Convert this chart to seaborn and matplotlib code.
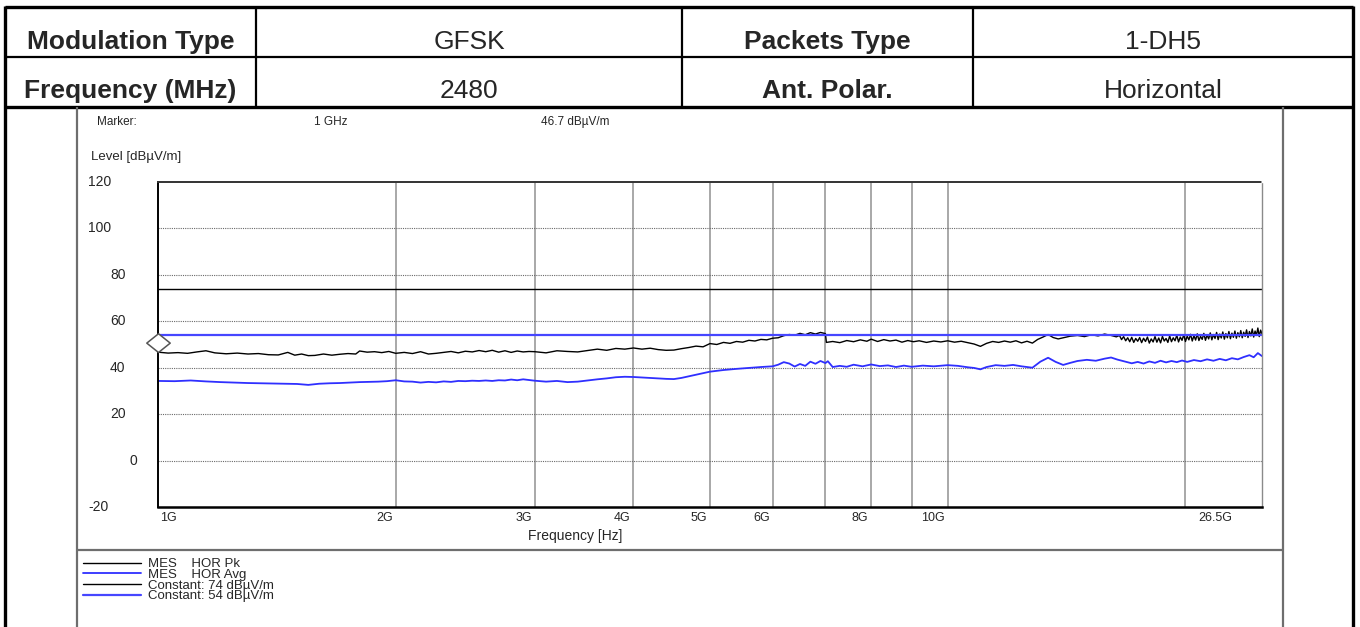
import numpy as np
import pandas as pd
import matplotlib
matplotlib.use("Agg")
import matplotlib.pyplot as plt
import matplotlib.transforms as mtransforms
from matplotlib.lines import Line2D
from matplotlib.path import Path
from matplotlib.ticker import NullLocator
import seaborn as sns

# ---- table content
left_labels = ["Modulation Type", "Frequency (MHz)"]
left_values = ["GFSK", "2480"]
right_labels = ["Packets Type", "Ant. Polar."]
right_values = ["1-DH5", "Horizontal"]

# ---- marker / limits
marker_freq = 1.0      # GHz
marker_level = 46.7    # dBuV/m
limit_pk = 74
limit_avg = 54

# ---- peak trace (GHz, dBuV/m)
pk_freq = [1.00, 1.03, 1.06, 1.09, 1.12, 1.15, 1.18, 1.22, 1.26, 1.30, 1.34, 1.38, 1.42, 1.46,
           1.49, 1.52, 1.55, 1.58, 1.62, 1.66, 1.70, 1.74, 1.78, 1.80, 1.84, 1.88, 1.92, 1.96,
           2.00, 2.05, 2.10, 2.15, 2.20, 2.25, 2.30, 2.35, 2.40, 2.45, 2.50, 2.55, 2.60, 2.65,
           2.70, 2.75, 2.80, 2.85, 2.90, 2.95, 3.00, 3.10, 3.20, 3.30, 3.40, 3.50, 3.60, 3.70,
           3.80, 3.90, 4.00, 4.10, 4.20, 4.30, 4.40, 4.50, 4.60, 4.70, 4.80, 4.90, 5.00, 5.10,
           5.20, 5.30, 5.40, 5.50, 5.60, 5.70, 5.80, 5.90, 6.00, 6.10, 6.20, 6.30, 6.40, 6.50,
           6.60, 6.70, 6.80, 6.90, 7.00, 7.02, 7.15, 7.30, 7.45, 7.60, 7.75, 7.90, 8.00, 8.15,
           8.30, 8.45, 8.60, 8.75, 8.90, 9.05, 9.20, 9.40, 9.60, 9.80, 10.0, 10.2, 10.4, 10.6,
           10.8, 11.0, 11.2, 11.4, 11.6, 11.8, 12.0, 12.2, 12.4, 12.6, 12.8, 13.0, 13.2, 13.4,
           13.6, 13.8, 14.0, 14.3, 14.6, 14.9, 15.2, 15.5, 15.8, 16.1, 16.35,
           16.5, 16.6, 16.7, 16.8, 16.9, 17.0, 17.1, 17.2, 17.3, 17.4,
           17.5, 17.6, 17.7, 17.8, 17.9, 18.0, 18.1, 18.2, 18.3, 18.4,
           18.5, 18.6, 18.7, 18.8, 18.9, 19.0, 19.1, 19.2, 19.3, 19.4,
           19.5, 19.6, 19.7, 19.8, 19.9, 20.0, 20.1, 20.2, 20.3, 20.4,
           20.5, 20.6, 20.7, 20.8, 20.9, 21.0, 21.1, 21.2, 21.3, 21.4,
           21.5, 21.6, 21.7, 21.8, 21.9, 22.0, 22.1, 22.2, 22.3, 22.4,
           22.5, 22.6, 22.7, 22.8, 22.9, 23.0, 23.1, 23.2, 23.3, 23.4,
           23.5, 23.6, 23.7, 23.8, 23.9, 24.0, 24.1, 24.2, 24.3, 24.4,
           24.5, 24.6, 24.7, 24.8, 24.9, 25.0]
pk_level = [46.7, 46.3, 46.5, 46.2, 46.8, 47.3, 46.4, 46.0, 46.3, 45.9, 46.1, 45.6, 45.5, 46.6,
            45.4, 45.9, 45.2, 45.3, 45.9, 45.4, 45.8, 46.1, 45.9, 47.2, 46.7, 46.9, 46.5, 47.0,
            46.2, 46.6, 46.1, 46.9, 45.9, 46.2, 46.6, 47.0, 46.4, 47.1, 46.8, 47.4, 46.9, 47.5,
            46.7, 47.3, 46.6, 47.2, 46.8, 47.0, 46.9, 46.4, 47.3, 47.0, 46.8, 47.4, 48.0, 47.5,
            48.3, 48.0, 48.5, 48.0, 48.4, 47.8, 47.5, 47.6, 48.2, 48.7, 49.3, 49.0, 50.4, 50.0,
            50.9, 50.5, 51.3, 51.0, 51.8, 51.5, 52.2, 52.0, 52.7, 52.9, 53.8, 54.3, 54.0, 54.8,
            54.2, 55.1, 54.5, 55.2, 54.7, 50.9, 51.3, 50.8, 51.7, 51.2, 52.0, 51.4, 52.3, 51.3,
            52.1, 51.5, 51.9, 51.0, 51.7, 51.2, 51.6, 50.9, 51.5, 51.1, 51.6, 51.0, 51.4, 50.8,
            50.2, 49.2, 50.5, 51.3, 50.9, 51.5, 51.0, 51.6, 50.7, 51.4, 50.6, 52.2, 53.2, 54.3,
            53.0, 52.4, 52.9, 53.6, 53.9, 53.4, 54.2, 53.7, 54.5, 53.9, 53.3,
            53.9, 52.1, 53.4, 51.6, 52.9, 51.2, 53.1, 50.9, 52.6, 51.4,
            53.0, 50.8, 52.7, 51.3, 53.2, 50.6, 52.4, 51.1, 53.4, 51.0,
            52.8, 50.7, 53.5, 51.5, 52.6, 50.9, 53.7, 51.2, 52.9, 51.6,
            54.0, 51.1, 53.2, 51.8, 54.2, 51.3, 53.6, 52.0, 54.4, 51.5,
            53.8, 51.9, 54.6, 51.7, 53.5, 52.2, 54.8, 51.8, 54.1, 52.4,
            55.0, 52.0, 54.3, 52.6, 55.2, 52.1, 54.5, 52.8, 55.4, 52.3,
            54.7, 52.9, 55.6, 52.5, 54.9, 53.1, 55.8, 52.7, 55.1, 53.3,
            56.0, 52.9, 55.3, 53.5, 56.3, 53.0, 55.6, 53.7, 56.7, 53.2,
            55.8, 53.9, 57.1, 53.4, 56.2, 54.6]

# ---- average trace (GHz, dBuV/m)
avg_freq = [1.00, 1.05, 1.10, 1.15, 1.20, 1.25, 1.30, 1.35, 1.40, 1.45, 1.50, 1.55, 1.60, 1.65,
            1.70, 1.75, 1.80, 1.85, 1.90, 1.95, 2.00, 2.05, 2.10, 2.15, 2.20, 2.25, 2.30, 2.35,
            2.40, 2.45, 2.50, 2.55, 2.60, 2.65, 2.70, 2.75, 2.80, 2.85, 2.90, 2.95, 3.00, 3.10,
            3.20, 3.30, 3.40, 3.50, 3.60, 3.70, 3.80, 3.90, 4.00, 4.10, 4.20, 4.30, 4.40, 4.50,
            4.60, 4.70, 4.80, 4.90, 5.00, 5.20, 5.40, 5.60, 5.80, 6.00, 6.10, 6.20, 6.30, 6.40,
            6.50, 6.60, 6.70, 6.80, 6.90, 7.00, 7.05, 7.15, 7.30, 7.45, 7.60, 7.80, 8.00, 8.20,
            8.40, 8.60, 8.80, 9.00, 9.30, 9.60, 10.0, 10.3, 10.6, 10.8, 11.0, 11.2, 11.5, 11.8,
            12.1, 12.4, 12.8, 13.1, 13.4, 13.7, 14.0, 14.3, 14.6, 15.0, 15.4, 15.8, 16.1, 16.4,
            16.8, 17.1, 17.4, 17.7, 18.0, 18.3, 18.6, 18.9, 19.2, 19.5, 19.8, 20.1, 20.5, 20.9,
            21.3, 21.7, 22.1, 22.5, 22.9, 23.3, 23.7, 24.1, 24.4, 24.7, 25.0]
avg_level = [34.3, 34.2, 34.5, 34.1, 33.8, 33.6, 33.4, 33.3, 33.2, 33.1, 33.0, 32.6, 33.1, 33.3,
             33.4, 33.6, 33.8, 33.9, 34.0, 34.2, 34.6, 34.1, 34.0, 33.6, 33.9, 33.7, 34.1, 33.9,
             34.3, 34.2, 34.4, 34.3, 34.5, 34.3, 34.6, 34.5, 34.9, 34.6, 35.0, 34.7, 34.4, 34.0,
             34.3, 33.8, 34.0, 34.5, 35.0, 35.4, 35.9, 36.1, 36.0, 35.8, 35.6, 35.4, 35.2, 35.1,
             35.6, 36.3, 37.0, 37.7, 38.3, 39.0, 39.5, 39.9, 40.3, 40.6, 41.3, 42.4, 41.8, 40.5,
             41.6, 40.8, 42.6, 41.7, 42.9, 42.0, 42.8, 40.3, 40.8, 40.4, 41.3, 40.6, 41.4, 40.7,
             41.0, 40.3, 40.9, 40.4, 40.9, 40.6, 41.1, 40.8, 40.2, 39.9, 39.3, 40.3, 41.1, 40.8,
             41.2, 40.6, 40.0, 42.6, 44.3, 42.5, 41.2, 42.1, 42.9, 43.4, 43.0, 43.9, 44.4, 43.5,
             42.6, 41.9, 42.5, 41.8, 42.7, 42.1, 43.0, 42.3, 42.9, 42.4, 43.1, 42.5, 43.3, 42.8,
             43.6, 43.0, 43.8, 43.2, 44.1, 43.6, 44.6, 45.4, 44.5, 46.3, 45.0]

y_ticks = [120, 100, 80, 60, 40, 20, 0, -20]
grid_freqs = [2, 3, 4, 5, 6, 7, 8, 9, 10, 20]
x_labels = ["1G", "2G", "3G", "4G", "5G", "6G", "8G", "10G", "26.5G"]
x_label_pos = [1, 2, 3, 4, 5, 6, 8, 10, 25]
legend_labels = ["MES    HOR Pk", "MES    HOR Avg", "Constant: 74 dBµV/m", "Constant: 54 dBµV/m"]

sns.set_theme(style="white")
plt.rcParams["font.family"] = ["Liberation Sans", "DejaVu Sans"]

W, H = 1360, 627
fig = plt.figure(figsize=(W / 100, H / 100), dpi=100)


def fx(x):
    return x / W


def fy(y):
    return 1 - y / H


def fline(xs, ys, lw, color):
    fig.add_artist(Line2D([fx(v) for v in xs], [fy(v) for v in ys],
                          transform=fig.transFigure, lw=lw, color=color, solid_capstyle="butt"))


# ---- header table
fline([5, 1353], [7, 7], 2.4, "black")
fline([5, 1353], [57, 57], 1.6, "black")
fline([5, 1353], [107, 107], 2.4, "black")
fline([5, 5], [6, 627], 2.4, "black")
fline([1353, 1353], [6, 627], 2.4, "black")
for xc in [256, 682, 973]:
    fline([xc, xc], [7, 107], 1.6, "black")

col_centers = [130.5, 469, 827.5, 1163]
row_centers = [42, 91]
for i in range(2):
    fig.text(fx(col_centers[0]), fy(row_centers[i]), left_labels[i], ha="center", va="center",
             fontsize=19, fontweight="bold")
    fig.text(fx(col_centers[1]), fy(row_centers[i]), left_values[i], ha="center", va="center",
             fontsize=19)
    fig.text(fx(col_centers[2]), fy(row_centers[i]), right_labels[i], ha="center", va="center",
             fontsize=19, fontweight="bold")
    fig.text(fx(col_centers[3]), fy(row_centers[i]), right_values[i], ha="center", va="center",
             fontsize=19)

# ---- plot panel frame
fline([77, 77], [107, 627], 1.6, "#6e6e6e")
fline([1283, 1283], [107, 627], 1.6, "#6e6e6e")
fline([77, 1283], [550, 550], 1.6, "#6e6e6e")

fig.text(fx(97), fy(122), "Marker:", fontsize=8.5, va="center")
fig.text(fx(314), fy(122), "%g GHz" % marker_freq, fontsize=8.5, va="center")
fig.text(fx(541), fy(122), "%.1f dBµV/m" % marker_level, fontsize=8.5, va="center")
fig.text(fx(91), fy(157), "Level [dBµV/m]", fontsize=9.5, va="center")

# ---- axes
ax = fig.add_axes([fx(158), fy(507), (1262 - 158) / W, (507 - 182) / H])
sns.lineplot(x=pk_freq, y=pk_level, ax=ax, color="black", lw=1.0, sort=False)
sns.lineplot(x=avg_freq, y=avg_level, ax=ax, color="#2f2fff", lw=1.3, sort=False)
ax.axhline(limit_pk, color="black", lw=1.0)
ax.axhline(limit_avg, color="#4646ff", lw=1.6)
lines = ax.get_lines()

diamond = Path([(0, 0), (1.25, 1), (0, 2), (-1.25, 1), (0, 0)],
               [Path.MOVETO, Path.LINETO, Path.LINETO, Path.LINETO, Path.CLOSEPOLY])
ax.plot([marker_freq], [marker_level], marker=diamond, ms=27, mfc="white", mec="#555555",
        mew=1.1, ls="none", clip_on=False, zorder=10)

ax.set_xscale("log")
ax.set_xlim(1, 25)
ax.set_ylim(-20, 120)
ax.set_xticks(grid_freqs)
ax.xaxis.set_minor_locator(NullLocator())
ax.set_yticks(y_ticks[1:-1])
ax.set_xticklabels([])
ax.set_yticklabels([])
ax.tick_params(length=0)
ax.set_xlabel("")
ax.set_ylabel("")
ax.xaxis.grid(True, color="#a8a8a8", lw=1.4, ls="-")
ax.yaxis.grid(True, color="#6a6a6a", lw=0.8, ls=(0, (1, 1)))
ax.set_axisbelow(True)
for side in ["left", "bottom"]:
    ax.spines[side].set_color("black")
ax.spines["left"].set_linewidth(1.4)
ax.spines["bottom"].set_linewidth(1.8)
ax.spines["top"].set_color("#333333")
ax.spines["top"].set_linewidth(1.4)
ax.spines["top"].set_linestyle((0, (1, 1)))
ax.spines["right"].set_color("#8a8a8a")
ax.spines["right"].set_linewidth(1.0)
ax.spines["right"].set_linestyle((0, (1, 1)))

# y tick labels (odd left offsets as in the instrument printout)
y_label_left = [88, 88, 110, 110, 110, 110, 130, 88]
for val, xl in zip(y_ticks, y_label_left):
    tr = mtransforms.offset_copy(ax.get_yaxis_transform(), fig=fig, x=xl - 158, y=0, units="dots")
    ax.text(0, val, str(val), transform=tr, ha="left", va="center", fontsize=10)

# x tick labels
for pos, lab in zip(x_label_pos, x_labels):
    if lab == "1G":
        dx, ha = 2, "left"
    elif lab == "26.5G":
        dx, ha = -30, "right"
    else:
        dx, ha = -3, "right"
    tr = mtransforms.offset_copy(ax.get_xaxis_transform(), fig=fig, x=dx, y=0, units="dots")
    ax.text(pos, -11 / 325, lab, transform=tr, ha=ha, va="center", fontsize=9)

fig.text(fx(575), fy(536), "Frequency [Hz]", ha="center", va="center", fontsize=10)

# ---- legend
fig.legend(lines[:4], legend_labels, loc="upper left", bbox_to_anchor=(fx(83), fy(558)),
           frameon=False, fontsize=9.5, handlelength=4.4, handletextpad=0.5,
           labelspacing=-0.12, borderpad=0, borderaxespad=0)

fig.savefig("out.png", dpi=100)
